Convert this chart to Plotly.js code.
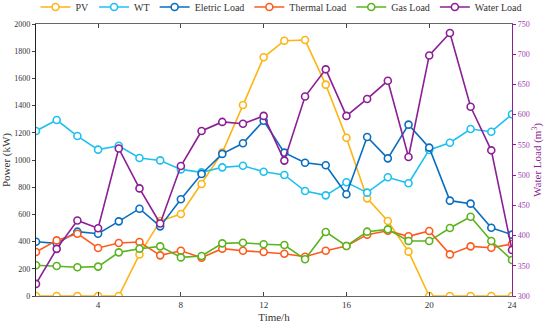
<!DOCTYPE html>
<html>
<head>
<meta charset="utf-8">
<script src="https://cdn.plot.ly/plotly-3.0.1.min.js"></script>
<style>html,body{margin:0;padding:0;background:#fff;}#chart{width:550px;height:326px;}</style>
</head>
<body>
<div id="chart"></div>
<script>
const hours = [1,2,3,4,5,6,7,8,9,10,11,12,13,14,15,16,17,18,19,20,21,22,23,24];
const pv = [0,0,0,0,0,306,551,603,824,1054,1404,1755,1877,1882,1554,1164,718,551,326,0,0,0,0,0];
const wt = [1213,1294,1176,1076,1105,1015,997,931,909,946,958,914,890,772,740,836,760,873,829,1074,1127,1228,1208,1336];
const elec = [399,387,473,458,549,642,512,711,897,1045,1123,1289,1054,980,961,748,1169,1012,1260,1091,701,679,502,451];
const thermal = [324,409,458,353,390,397,299,333,282,348,333,324,311,289,333,368,451,480,439,478,306,365,355,382];
const gas = [226,221,211,216,321,348,365,284,294,387,392,380,375,270,471,368,473,490,404,404,500,583,404,265];
const water = [320,378,425,412,544,478,420,515,573,588,585,598,524,630,675,598,626,656,530,698,735,613,541,376];
const names = ['PV','WT','Eletric Load','Thermal Load','Gas Load','Water Load'];
const colors = ['#FDB515','#1EC0F0','#0A6EC0','#FF5A1E','#5AB41E','#8C1E96'];
const series = [pv, wt, elec, thermal, gas, water];

const traces = series.map((s, i) => ({
  x: hours, y: s, name: names[i], type: 'scatter', mode: 'lines+markers',
  yaxis: i === 5 ? 'y2' : 'y',
  line: {color: colors[i], width: 1.6},
  marker: {symbol: 'circle', size: 7, color: '#fff', line: {color: colors[i], width: 1.6}}
}));

const serif = '"Liberation Serif", "Times New Roman", serif';
const layout = {
  width: 550, height: 326,
  margin: {l: 36, r: 38, t: 24, b: 30, autoexpand: false},
  paper_bgcolor: '#fff', plot_bgcolor: '#fff',
  font: {family: serif, size: 9, color: '#333'},
  showlegend: true,
  legend: {orientation: 'h', xref: 'paper', yref: 'paper', x: -0.001, xanchor: 'left', y: 1.0625, yanchor: 'middle',
           font: {family: serif, size: 10, color: '#333'}, itemwidth: 30, tracegroupgap: 0,
           bgcolor: 'rgba(0,0,0,0)', borderwidth: 0},
  xaxis: {range: [1, 24], tickvals: [4,8,12,16,20,24], ticks: 'inside', ticklen: 4,
          showline: true, linecolor: '#666', linewidth: 1.2, mirror: 'ticks', showgrid: false, zeroline: false,
          tickfont: {family: serif, size: 9, color: '#333'},
          title: {text: 'Time/h', font: {family: serif, size: 11, color: '#333'}, standoff: 4}},
  yaxis: {range: [0, 2000], dtick: 200, ticks: 'outside', ticklen: 3, showline: true, linecolor: '#222',
          linewidth: 1.2, showgrid: false, zeroline: false,
          tickfont: {family: serif, size: 8, color: '#333'},
          title: {text: 'Power (kW)', font: {family: serif, size: 11, color: '#333'}, standoff: 4}},
  yaxis2: {range: [300, 750], dtick: 50, overlaying: 'y', side: 'right', ticks: 'outside', ticklen: 3,
           showline: true, linecolor: '#8C1E96', tickcolor: '#8C1E96', linewidth: 1.2, showgrid: false, zeroline: false,
           tickfont: {family: serif, size: 8, color: '#A040B0'},
           title: {text: 'Water Load (m<sup>3</sup>)', font: {family: serif, size: 11, color: '#8C1E96'}, standoff: 4}}
};
Plotly.newPlot('chart', traces, layout, {displayModeBar: false, staticPlot: true});
</script>
</body>
</html>
